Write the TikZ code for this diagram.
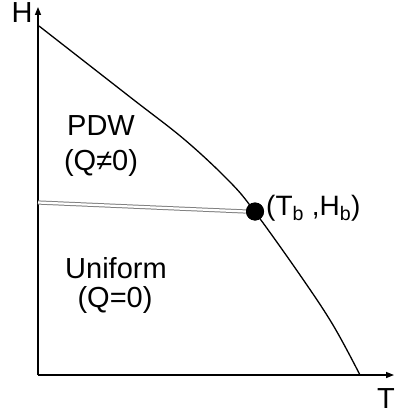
\documentclass[tikz,border=0pt]{standalone}
\usepackage{fontspec}
\setmainfont{Liberation Sans}
\usetikzlibrary{arrows.meta}
\tikzset{
  axis/.style={line width=1.4pt,-{Triangle[length=8pt,width=6pt]}},
  lbl/.style={font=\fontsize{29}{33}\selectfont, align=center, inner sep=0pt},
  axlbl/.style={font=\fontsize{29}{33}\selectfont, inner sep=0pt, text height=21pt, text depth=0pt, anchor=south},
  curveline/.style={line width=1.3pt},
  dbl/.style={draw=gray, double=white, double distance=2.2pt, line width=1pt},
}
\begin{document}
\begin{tikzpicture}[x=1pt,y=-1pt]
\useasboundingbox (0,0) rectangle (395,417);
\coordinate (O) at (38,375);
\coordinate (Htip) at (38,7);
\coordinate (Ttip) at (394,375);
\draw[axis] (O) -- (Htip);
\draw[axis] (O) -- (Ttip);
\node[axlbl] (H) at (22,23) {H};
\node[axlbl] (T) at (386,409) {T};
\draw[curveline] plot[smooth, tension=0.6] coordinates {(39,26) (130,97) (185,140) (230,182) (255,212) (300,275) (333,325) (360,375)};
\coordinate (L) at (38,202.5);
\node[circle, fill=black, minimum size=18pt, inner sep=0pt] (dot) at (255,211.5) {};
\draw[dbl] (L) -- (dot.west);
\fill (dot) circle (9);
\node[lbl, anchor=west, font=\fontsize{28}{32}\selectfont] (TbHb) at (266,208) {(T\textsubscript{b} ,H\textsubscript{b})};
\node[lbl] (pdw) at (101,126) {PDW};
\node[lbl] (qn) at (101,163) {(Q≠0)};
\node[lbl] (uni) at (116,268) {Uniform};
\node[lbl] (q0) at (115,300) {(Q=0)};
\end{tikzpicture}
\end{document}
